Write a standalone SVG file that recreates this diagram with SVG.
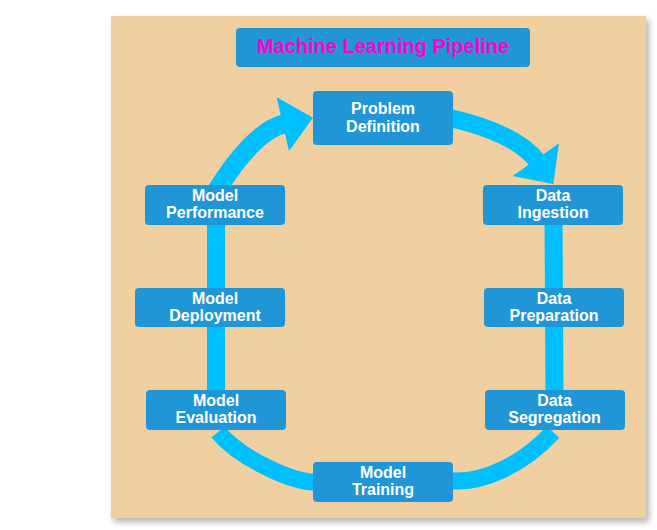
<svg xmlns="http://www.w3.org/2000/svg" width="657" height="530" viewBox="0 0 657 530">
<defs>
<filter id="sh" x="-5%" y="-5%" width="115%" height="115%">
<feDropShadow dx="3" dy="4" stdDeviation="3" flood-color="#000" flood-opacity="0.3"/>
</filter>
<style>
.box{fill:#2196D6;}
.lbl{font-family:"Liberation Sans",Arial,sans-serif;font-weight:bold;font-size:16px;fill:#fff;text-anchor:middle;}
.title{font-family:"Liberation Sans",Arial,sans-serif;font-weight:bold;font-size:20px;fill:#FF00CC;text-anchor:middle;}
.band{fill:none;stroke:#00BFFF;stroke-width:18;stroke-linecap:butt;}
.head{fill:#00BFFF;}
</style>
</defs>
<rect x="111" y="16" width="535" height="502" fill="#F0CFA0" filter="url(#sh)"/>
<g id="connectors">
<path class="band" d="M217 195 L217 190 Q254 131 285 123.5" style="stroke-width:19"/>
<polygon class="head" points="276.7,97.3 313,117.7 289,151"/>
<path class="band" d="M446 117 Q517 133 538 162"/>
<polygon class="head" points="559,143.3 553.3,184 512.7,176"/>
<path class="band" d="M553.5 215 L554.5 400"/>
<path class="band" d="M216 215 L216 400"/>
<path class="band" d="M218 432 C239.2 457.7 294.8 484.8 320 482" style="stroke-width:17"/>
<path class="band" d="M445 481 L452 481 C482.7 482.7 522.3 465.6 553 432" style="stroke-width:17"/>
</g>
<g id="title">
<rect class="box" x="236" y="28" width="294" height="39" rx="4"/>
<text class="title" x="383" y="53">Machine Learning Pipeline</text>
</g>
<g id="problem-definition">
<rect class="box" x="313" y="91" width="140" height="54" rx="4"/>
<text class="lbl" x="383" y="113.5">Problem</text>
<text class="lbl" x="383" y="131.5">Definition</text>
</g>
<g id="data-ingestion">
<rect class="box" x="483" y="185" width="140" height="40" rx="4"/>
<text class="lbl" x="553" y="200.5">Data</text>
<text class="lbl" x="553" y="218">Ingestion</text>
</g>
<g id="data-preparation">
<rect class="box" x="484" y="288" width="140" height="39" rx="4"/>
<text class="lbl" x="554" y="303.5">Data</text>
<text class="lbl" x="554" y="321">Preparation</text>
</g>
<g id="data-segregation">
<rect class="box" x="485" y="390" width="140" height="40" rx="4"/>
<text class="lbl" x="554.5" y="405.5">Data</text>
<text class="lbl" x="554.5" y="423">Segregation</text>
</g>
<g id="model-training">
<rect class="box" x="313" y="462" width="140" height="40" rx="4"/>
<text class="lbl" x="383" y="477.5">Model</text>
<text class="lbl" x="383" y="495">Training</text>
</g>
<g id="model-evaluation">
<rect class="box" x="146" y="390" width="140" height="40" rx="4"/>
<text class="lbl" x="216" y="405.5">Model</text>
<text class="lbl" x="216" y="423">Evaluation</text>
</g>
<g id="model-deployment">
<rect class="box" x="135" y="288" width="150" height="39" rx="4"/>
<text class="lbl" x="215" y="303.5">Model</text>
<text class="lbl" x="215" y="321">Deployment</text>
</g>
<g id="model-performance">
<rect class="box" x="145" y="185" width="140" height="40" rx="4"/>
<text class="lbl" x="215" y="200.5">Model</text>
<text class="lbl" x="215" y="218">Performance</text>
</g>
</svg>
